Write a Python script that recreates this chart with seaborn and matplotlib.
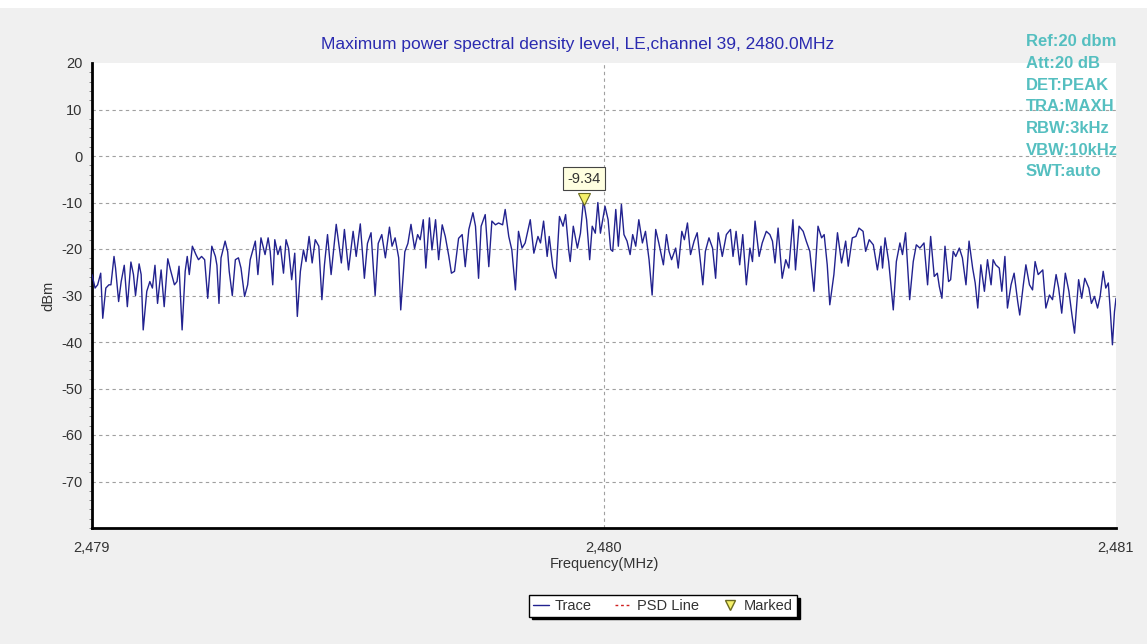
"""
Maximum power spectral density plot, BLE channel 39 (2480 MHz).
Trace levels read off the analyzer screenshot, saved to out.png.
"""

import matplotlib
matplotlib.use("Agg")
import matplotlib.pyplot as plt
from matplotlib.lines import Line2D
from matplotlib.patches import Rectangle
from matplotlib.ticker import FuncFormatter, MultipleLocator
import pandas as pd
import seaborn as sns

START_MHZ = 2479.0

# trace sample positions, kHz above 2479 MHz
freq_khz = [
    0, 6, 11, 17, 21, 27, 33, 37, 43, 46, 52, 57, 63, 69, 76, 81, 85, 92, 96, 100,
    107, 113, 118, 123, 128, 135, 141, 148, 154, 161, 166, 170, 176, 182, 186, 190,
    196, 203, 208, 214, 220, 226, 234, 241, 244, 248, 252, 260, 265, 268, 274, 280,
    286, 291, 298, 304, 309, 319, 324, 330, 338,
    344, 348, 353, 357, 363, 368, 374, 379, 384, 390, 396, 401, 407, 413, 418, 424,
    430, 436, 443, 449, 454, 460, 467, 477, 482, 487, 493, 501, 510, 516, 524, 532,
    538, 545, 553, 559, 566, 573, 581, 586, 592, 599, 603, 611, 617, 623, 630, 636,
    641, 647, 652, 659, 664, 671,
    677, 684, 690, 697, 702, 708, 716, 723, 729, 736, 744, 749, 755, 760, 768, 775,
    781, 788, 794, 802, 807, 814, 820, 827, 833, 840, 846, 856, 863, 871, 876, 882,
    889, 893, 900, 906, 913, 920, 925, 931, 934, 940, 948, 954, 960, 966, 972, 977,
    983, 988, 993,
    1002, 1008, 1013, 1017, 1023, 1028, 1034, 1039, 1045, 1051, 1056, 1062, 1068,
    1075, 1081, 1088, 1094, 1101, 1107, 1116, 1122, 1127, 1132, 1140, 1145, 1152,
    1157, 1163, 1169, 1176, 1182, 1189, 1193, 1198, 1205, 1212, 1218, 1223, 1231,
    1239, 1247, 1252, 1258, 1265, 1271, 1278, 1285, 1290, 1295, 1303, 1309, 1317,
    1324, 1329, 1334,
    1340, 1348, 1355, 1361, 1369, 1374, 1381, 1389, 1395, 1402, 1410, 1418, 1425,
    1430, 1436, 1441, 1449, 1456, 1464, 1472, 1477, 1485, 1492, 1498, 1506, 1511,
    1518, 1526, 1534, 1541, 1544, 1549, 1556, 1565, 1571, 1578, 1583, 1589, 1597,
    1604, 1610, 1617, 1625, 1632, 1638, 1645, 1651, 1655, 1660, 1666,
    1673, 1677, 1682, 1687, 1694, 1700, 1707, 1713, 1720, 1725, 1730, 1736, 1743,
    1749, 1756, 1760, 1765, 1772, 1777, 1783, 1788, 1795, 1801, 1808, 1812, 1819,
    1824, 1831, 1837, 1842, 1848, 1857, 1863, 1870, 1876, 1883, 1888, 1894, 1901,
    1908, 1914, 1919, 1927, 1933, 1939, 1947, 1952, 1958, 1964, 1969, 1975, 1980,
    1985, 1989, 1993, 1997, 2000,
]

level_dbm = [
    -25.5, -28.4, -27.7, -25.2, -34.9, -28.4, -27.7, -27.7, -21.6, -24.1, -31.3, -27.0,
    -23.5, -32.4, -22.8, -25.5, -30.0, -23.2, -25.5, -37.4, -29.1, -27.0, -28.4, -23.5,
    -31.7, -24.5, -32.4, -22.1, -24.8, -27.7, -27.0, -23.7, -37.4, -24.8, -21.6, -25.5,
    -19.4, -21.2, -22.3, -21.6, -22.3, -30.6, -19.4, -21.6, -23.5, -31.7, -21.9, -18.3,
    -20.6, -24.8, -30.0, -22.3, -21.9, -24.1, -30.2, -27.7, -22.3, -18.3, -25.5, -17.6,
    -21.2,
    -17.6, -20.5, -27.7, -18.0, -21.2, -19.4, -25.2, -18.0, -19.9, -26.6, -20.9, -34.5,
    -24.8, -20.2, -22.7, -17.3, -23.0, -18.0, -19.4, -30.9, -23.4, -16.9, -25.5, -14.7,
    -18.9, -23.0, -15.8, -24.5, -16.2, -21.6, -14.6, -26.3, -18.8, -16.5, -30.0, -18.8,
    -16.9, -21.9, -15.3, -19.4, -17.6, -21.9, -33.1, -20.6, -18.8, -14.7, -19.9, -16.9,
    -18.0, -13.7, -24.1, -13.3, -20.2, -13.7,
    -22.3, -14.8, -17.3, -21.6, -25.2, -24.8, -17.7, -16.9, -23.8, -15.8, -12.2, -15.1,
    -26.3, -15.1, -12.6, -23.8, -14.0, -14.8, -14.4, -14.8, -11.5, -17.3, -20.2, -28.8,
    -16.2, -19.8, -18.7, -13.7, -20.9, -17.3, -18.7, -14.0, -21.6, -17.3, -23.8, -26.3,
    -13.0, -15.1, -12.6, -20.2, -22.7, -15.1, -19.8, -16.6, -9.34, -13.7, -22.3, -15.1,
    -16.6, -10.0, -16.6,
    -10.8, -13.7, -20.1, -20.5, -11.5, -19.4, -10.4, -16.9, -18.3, -21.2, -16.9, -19.4,
    -13.7, -18.7, -16.2, -22.3, -29.9, -15.8, -18.7, -23.4, -16.9, -20.5, -22.3, -19.8,
    -24.1, -16.2, -18.0, -14.4, -21.2, -18.3, -16.5, -23.4, -27.7, -20.5, -17.6, -19.8,
    -26.3, -16.5, -21.6, -16.9, -15.8, -21.6, -16.2, -23.4, -16.9, -27.7, -19.8, -22.7,
    -14.0, -21.6, -18.7, -16.2, -16.9, -18.3, -23.0,
    -15.5, -26.3, -22.3, -24.1, -13.7, -24.5, -15.1, -16.2, -18.3, -20.5, -29.1, -15.1,
    -17.6, -16.9, -23.4, -32.0, -25.5, -16.5, -23.0, -18.3, -23.7, -17.6, -17.3, -15.5,
    -16.2, -20.5, -18.0, -19.1, -24.5, -19.4, -24.1, -17.6, -22.7, -33.1, -22.7, -18.7,
    -21.2, -16.5, -30.9, -22.7, -19.1, -19.8, -18.7, -27.7, -17.3, -25.9, -25.2, -28.1,
    -30.6, -19.4,
    -27.0, -26.6, -20.5, -21.6, -19.8, -21.9, -27.7, -18.3, -24.1, -27.3, -32.7, -23.4,
    -29.1, -22.3, -27.7, -22.3, -23.4, -24.1, -29.1, -21.6, -32.7, -27.7, -25.2, -31.3,
    -34.2, -27.7, -23.4, -27.7, -28.8, -22.7, -25.5, -24.5, -32.7, -29.9, -30.9, -25.5,
    -28.4, -33.8, -25.2, -29.1, -34.2, -38.1, -26.6, -30.6, -26.3, -28.4, -31.7, -30.2,
    -32.7, -30.2, -24.8, -28.4, -27.3, -33.5, -40.6, -33.5, -30.6,
]

marker_freq_mhz = 2479.960
marker_level_dbm = -9.34

x_ticks = [2479, 2480, 2481]
y_ticks = [-70, -60, -50, -40, -30, -20, -10, 0, 10, 20]

settings_lines = ["Ref:20 dbm", "Att:20 dB", "DET:PEAK", "TRA:MAXH",
                  "RBW:3kHz", "VBW:10kHz", "SWT:auto"]

TITLE = "Maximum power spectral density level, LE,channel 39, 2480.0MHz"
TRACE_COLOR = "#22228f"
TEXT_COLOR = "#333333"


def build_frame():
    assert len(freq_khz) == len(level_dbm)
    df = pd.DataFrame({"khz": freq_khz, "dbm": level_dbm})
    df["freq"] = START_MHZ + df["khz"] / 1000.0
    return df


def main():
    df = build_frame()

    sns.set_style("white")
    plt.rcParams["font.family"] = ["Liberation Sans", "DejaVu Sans"]
    plt.rcParams["axes.unicode_minus"] = False

    fig = plt.figure(figsize=(11.47, 6.44), dpi=100, facecolor="#f0f0f0")
    fig.add_artist(Rectangle((0, 1 - 8 / 644), 1, 8 / 644, transform=fig.transFigure,
                             facecolor="white", edgecolor="none"))
    ax = fig.add_axes([92 / 1147, 1 - 528 / 644, 1024 / 1147, 465 / 644])
    ax.set_facecolor("white")

    sns.lineplot(data=df, x="freq", y="dbm", ax=ax, color=TRACE_COLOR,
                 linewidth=1.0, estimator=None, sort=False, legend=False, zorder=3)

    ax.plot([marker_freq_mhz], [marker_level_dbm], marker="v", markersize=8,
            markerfacecolor="#f5f06a", markeredgecolor="#6b6b20",
            markeredgewidth=0.8, linestyle="none", zorder=5)
    ax.annotate(f"{marker_level_dbm:.2f}", xy=(marker_freq_mhz, marker_level_dbm),
                xytext=(0, 15), textcoords="offset points", ha="center", va="center",
                fontsize=10.5, color=TEXT_COLOR, zorder=6,
                bbox=dict(boxstyle="square,pad=0.3", facecolor="#ffffe0",
                          edgecolor="#444444", linewidth=0.8))

    ax.set_xlim(x_ticks[0], x_ticks[-1])
    ax.set_ylim(-80, 20)
    ax.set_xticks(x_ticks)
    ax.set_yticks(y_ticks)
    ax.xaxis.set_major_formatter(FuncFormatter(lambda v, _: f"{v:,.0f}"))
    ax.yaxis.set_minor_locator(MultipleLocator(2))
    ax.tick_params(axis="both", which="major", direction="out", length=4, width=0.8,
                   color="#555555", labelsize=10.5, labelcolor=TEXT_COLOR, pad=3)
    ax.tick_params(axis="y", which="minor", direction="out", length=2, width=0.6,
                   color="#777777", left=True)
    ax.tick_params(axis="x", which="major", pad=5)

    ax.yaxis.grid(True, linestyle=(0, (3, 3)), color="#a0a0a0", linewidth=0.8)
    # the top tick sits on the plot edge; the analyzer draws no grid line there
    ax.yaxis.get_gridlines()[-1].set_visible(False)
    ax.axvline(x_ticks[1], linestyle=(0, (3, 3)), color="#a0a0a0", linewidth=0.8,
               zorder=1)
    ax.set_axisbelow(True)

    for side in ("top", "right"):
        ax.spines[side].set_visible(False)
    for side in ("left", "bottom"):
        ax.spines[side].set_color("black")
        ax.spines[side].set_linewidth(2.0)

    ax.set_xlabel("Frequency(MHz)", fontsize=10.5, color=TEXT_COLOR, labelpad=2)
    ax.set_ylabel("dBm", fontsize=10.5, color=TEXT_COLOR, labelpad=4)

    fig.text(578 / 1147, 1 - 44 / 644, TITLE, ha="center", va="center",
             fontsize=12.5, color="#2a2ab0")

    for i, line in enumerate(settings_lines):
        fig.text(1026 / 1147, 1 - (42 + 21.6 * i) / 644, line, ha="left",
                 va="center", fontsize=12, fontweight="bold", color="#55bfc0")

    handles = [
        Line2D([], [], color=TRACE_COLOR, linewidth=1.0),
        Line2D([], [], color="#d02020", linewidth=1.0, linestyle=(0, (2, 2))),
        Line2D([], [], marker="v", markersize=7, markerfacecolor="#f5f06a",
               markeredgecolor="#6b6b20", linestyle="none"),
    ]
    fig.legend(handles, ["Trace", "PSD Line", "Marked"], ncol=3, loc="center",
               bbox_to_anchor=(663 / 1147, 1 - 606 / 644), fontsize=10.5,
               frameon=True, fancybox=False, edgecolor="black",
               shadow={"color": "black", "alpha": 1.0},
               handlelength=1.1, handletextpad=0.4, columnspacing=1.6,
               borderpad=0.25, labelcolor=TEXT_COLOR)

    fig.savefig("out.png", dpi=100, facecolor=fig.get_facecolor())
    plt.close(fig)


if __name__ == "__main__":
    main()
